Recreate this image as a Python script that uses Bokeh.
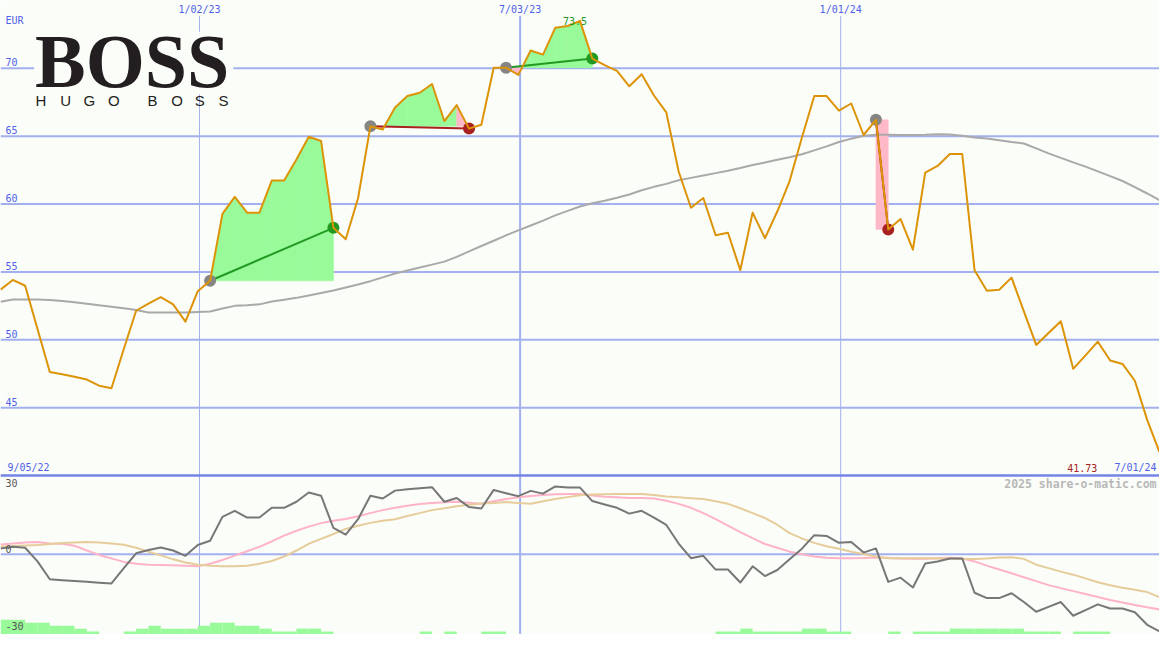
import numpy as np
import pandas as pd
from bokeh.plotting import figure
from bokeh.models import Range1d
from bokeh.core.properties import value
from bokeh.embed import file_html
from bokeh.resources import INLINE

# ---------------- data ----------------
first_date = "2022-09-11"          # weekly observations
n_points = 95

price = [
    53.69, 54.41, 53.98, 50.79, 47.63, 47.46, 47.27, 47.07, 46.62, 46.43,
    49.32, 52.14, 52.66, 53.14, 52.61, 51.34, 53.58, 54.35, 59.28, 60.53,
    59.37, 59.37, 61.73, 61.73, 63.29, 64.96, 64.65, 58.25, 57.41, 60.43,
    65.73, 65.49, 67.12, 67.96, 68.20, 68.85, 66.12, 67.29, 65.56, 65.85,
    70.05, 70.05, 69.52, 71.32, 71.01, 73.00, 73.12, 73.50, 70.72, 70.24,
    69.81, 68.68, 69.57, 68.00, 66.76, 62.40, 59.73, 60.45, 57.70, 57.89,
    55.13, 59.37, 57.48, 59.45, 61.70, 64.90, 67.96, 67.96, 66.88, 67.41,
    65.09, 66.21, 58.13, 58.90, 56.64, 62.32, 62.81, 63.69, 63.69, 55.13,
    53.62, 53.69, 54.58, 52.10, 49.62, 50.50, 51.37, 47.86, 48.85, 49.86,
    48.47, 48.22, 46.98, 44.10, 41.73,
]

ma_long = [
    52.81, 52.97, 52.97, 52.97, 52.93, 52.86, 52.76, 52.66, 52.54, 52.43,
    52.32, 52.20, 52.01, 52.01, 52.01, 52.01, 52.05, 52.09, 52.30, 52.50,
    52.55, 52.61, 52.82, 52.95, 53.09, 53.27, 53.45, 53.63, 53.85, 54.07,
    54.32, 54.60, 54.89, 55.11, 55.32, 55.54, 55.76, 56.11, 56.51, 56.91,
    57.30, 57.70, 58.06, 58.42, 58.78, 59.17, 59.50, 59.82, 60.06, 60.25,
    60.47, 60.71, 61.02, 61.27, 61.49, 61.75, 61.93, 62.11, 62.28, 62.46,
    62.66, 62.88, 63.06, 63.27, 63.45, 63.67, 63.96, 64.25, 64.57, 64.82,
    65.04, 65.11, 65.10, 65.09, 65.09, 65.11, 65.14, 65.12, 65.04, 64.91,
    64.84, 64.71, 64.58, 64.46, 64.10, 63.74, 63.40, 63.07, 62.76, 62.41,
    62.06, 61.70, 61.25, 60.78, 60.29,
]

osc_main = [
    2.5, 3.2, 2.8, -3.1, -10.8, -11.2, -11.5, -11.9, -12.3, -12.6,
    -6.0, 0.4, 1.8, 2.9, 1.6, -0.7, 4.0, 5.8, 16.1, 18.7,
    15.8, 15.8, 20.0, 20.0, 22.6, 26.6, 25.2, 11.3, 8.4, 15.1,
    25.2, 24.0, 27.4, 28.0, 28.4, 28.9, 22.6, 24.2, 20.3, 19.7,
    27.7, 26.3, 25.0, 27.3, 26.1, 29.2, 28.7, 28.7, 22.9, 21.4,
    20.0, 17.5, 18.7, 15.8, 12.6, 4.6, -1.7, -0.7, -6.6, -6.6,
    -12.2, -5.2, -9.4, -6.8, -2.2, 2.4, 8.2, 7.9, 4.9, 5.3,
    0.7, 2.5, -11.9, -10.1, -14.3, -4.0, -3.1, -1.8, -1.8, -16.6,
    -18.9, -18.9, -16.8, -20.6, -24.8, -22.7, -20.6, -26.5, -24.1, -21.6,
    -23.4, -23.4, -25.0, -30.4, -33.2,
]

osc_pink = [
    4.2, 4.6, 5.1, 5.3, 4.6, 4.5, 3.7, 1.6, -0.3, -1.8,
    -3.3, -4.1, -4.5, -4.6, -4.8, -5.0, -5.2, -4.1, -2.5, -0.6,
    1.3, 3.2, 5.5, 8.0, 10.1, 11.9, 13.4, 14.4, 15.2, 16.4,
    17.7, 19.0, 20.0, 20.9, 21.6, 22.1, 22.4, 22.6, 22.2, 21.7,
    22.8, 23.8, 24.5, 25.1, 25.5, 25.8, 25.9, 25.9, 25.3, 24.8,
    24.5, 24.2, 24.2, 24.0, 23.0, 21.7, 20.0, 17.7, 15.1, 12.3,
    9.5, 6.9, 4.4, 2.8, 1.1, 0.0, -1.0, -1.5, -1.7, -1.7,
    -1.6, -1.4, -1.6, -1.8, -1.9, -1.9, -1.7, -1.5, -1.8, -3.1,
    -4.9, -6.6, -8.2, -9.9, -11.6, -13.3, -14.6, -15.9, -17.1, -18.4,
    -19.7, -20.8, -21.9, -22.8, -23.8,
]

osc_tan = [
    3.2, 3.5, 3.8, 4.0, 4.4, 4.8, 5.1, 5.3, 5.0, 4.6,
    4.1, 2.8, 1.1, -0.5, -2.2, -3.6, -4.5, -5.0, -5.2, -5.2,
    -5.0, -4.1, -2.9, -1.0, 1.6, 4.5, 6.6, 8.7, 10.9, 12.3,
    13.5, 14.4, 15.1, 16.5, 17.7, 19.0, 19.8, 20.7, 21.3, 21.9,
    22.1, 22.5, 22.1, 21.7, 22.8, 23.8, 24.6, 25.4, 25.7, 25.8,
    25.9, 25.9, 25.9, 25.5, 24.9, 24.5, 24.1, 23.8, 22.8, 21.7,
    19.8, 17.7, 15.6, 12.7, 9.1, 6.8, 4.9, 3.4, 2.4, 1.1,
    0.1, -1.0, -1.7, -1.7, -1.7, -1.7, -1.8, -1.9, -2.1, -2.1,
    -1.8, -1.4, -1.3, -2.0, -4.5, -6.0, -7.5, -8.8, -10.4, -12.1,
    -13.4, -14.4, -15.3, -16.3, -18.5,
]

vol_level = [
    5, 5, 4, 4, 3, 3, 2, 1, 0, 0,
    1, 2, 3, 2, 2, 2, 3, 4, 4, 3,
    3, 2, 1, 1, 2, 2, 1, 0, 0, 0,
    0, 0, 0, 0, 1, 0, 1, 0, 0, 1,
    1, 0, 0, 0, 0, 0, 0, 0, 0, 0,
    0, 0, 0, 0, 0, 0, 0, 0, 1, 1,
    2, 1, 1, 1, 1, 2, 2, 1, 1, 0,
    0, 0, 1, 0, 1, 1, 1, 2, 2, 2,
    2, 2, 2, 1, 1, 1, 0, 1, 1, 1,
    0, 0, 0, 0, 0,
]

trade_entry = [17, 30, 41, 71]
trade_exit = [27, 38, 48, 72]

vline_dates = ["2023-01-02", "2023-07-03", "2024-01-01"]
price_ticks = [45, 50, 55, 60, 65, 70]
osc_ticks = ["30", "0", "-30"]
currency = "EUR"
first_label = "9/05/22"
last_label = "7/01/24"
watermark = "2025 share-o-matic.com"
brand = "BOSS"
brand_sub = "HUGO BOSS"

# ---------------- colours ----------------
BG = "#fbfdf9"
GRID = "#a3b0f0"
SEP = "#7583e6"
BLUE_TXT = "#4f5fe8"
PRICE_C = "#dc9306"
MA_C = "#a9a9a9"
GREEN_FILL = "#98fa98"
PINK_FILL = "#ffb8c8"
WIN_C = "#229a22"
LOSS_C = "#a82020"
ENTRY_C = "#858585"
OSC_C = "#777777"
OSC_PINK_C = "#ffb3c6"
OSC_TAN_C = "#e6cc9a"
LOGO_C = "#231f20"
MONO = value("DejaVu Sans Mono")

# ---------------- geometry ----------------
dates = pd.date_range(first_date, periods=n_points, freq="7D")
X = dates.values.astype("datetime64[ms]").astype("int64").astype(float)
price_a = np.array(price)


def to_ms(s):
    return float(np.datetime64(pd.Timestamp(s).to_datetime64(), "ms").astype("int64"))


REF_W, REF_H = 1175, 650
W, H = 1159, 634
Y_TOP, Y_PANEL, PANEL_PX = 75.0, 40.0, 487.0
y_per_px = (Y_TOP - Y_PANEL) / PANEL_PX
Y_BOT = Y_TOP - REF_H * y_per_px
OSC_ZERO_PX, OSC_PX_UNIT = 567.7, 2.38
OSC_TOP = OSC_ZERO_PX / OSC_PX_UNIT
OSC_BOT = -(REF_H - OSC_ZERO_PX) / OSC_PX_UNIT
VOL_PX = 3.0

x0, x1 = X[0], X[-1]


def sx(px):
    return x0 + (x1 - x0) * px / REF_W


def sy(py):
    return Y_TOP - py * y_per_px


def so(py):
    return OSC_TOP - py / OSC_PX_UNIT


p = figure(width=W, height=H, x_range=Range1d(x0, x1), y_range=Range1d(Y_BOT, Y_TOP),
           output_backend="svg", toolbar_location=None,
           x_axis_location=None, y_axis_location=None, min_border=0,
           background_fill_color=BG, border_fill_color=BG, outline_line_color=None)
p.extra_y_ranges = {"osc": Range1d(OSC_BOT, OSC_TOP), "vol": Range1d(0, REF_H / VOL_PX)}
p.xgrid.visible = False
p.ygrid.visible = False

# vertical date lines
vx = [to_ms(d) for d in vline_dates]
p.segment(x0=vx, y0=[sy(16)] * len(vx), x1=vx, y1=[Y_BOT] * len(vx),
          line_color=GRID, line_width=[1, 2, 1])
# horizontal price grid
p.segment(x0=[x0] * len(price_ticks), y0=price_ticks, x1=[x1] * len(price_ticks), y1=price_ticks,
          line_color=GRID, line_width=2)
# oscillator zero line
p.segment(x0=[x0], y0=[0], x1=[x1], y1=[0], y_range_name="osc", line_color=GRID, line_width=2)
# panel separator
p.segment(x0=[x0], y0=[Y_PANEL], x1=[x1], y1=[Y_PANEL], line_color=SEP, line_width=2.5)

# volume-like bars at the bottom
vl = np.array(vol_level[:-1], dtype=float)
mask = vl > 0
p.quad(left=X[:-1][mask], right=X[1:][mask], bottom=0, top=vl[mask], y_range_name="vol",
       fill_color=GREEN_FILL, line_color=None)

# oscillator lines
p.line(X, osc_pink, y_range_name="osc", line_color=OSC_PINK_C, line_width=2)
p.line(X, osc_tan, y_range_name="osc", line_color=OSC_TAN_C, line_width=2)
p.line(X, osc_main, y_range_name="osc", line_color=OSC_C, line_width=2, line_join="round")

# logo background box (hides grid lines behind the logo)
p.quad(left=[sx(34)], right=[sx(236)], top=[sy(32)], bottom=[sy(96)], fill_color=BG, line_color=None)

# trade fills
g_xs, g_ys, r_xs, r_ys = [], [], [], []
for a, b in zip(trade_entry, trade_exit):
    L = price_a[a]
    loss = price_a[b] < L
    if b - a == 1:
        poly = ([X[a], X[a], X[b], X[b]], [L, price_a[b], price_a[b], L])
        (r_xs if loss else g_xs).append(poly[0])
        (r_ys if loss else g_ys).append(poly[1])
        continue
    for k in range(a, b):
        xa, xb = X[k], X[k + 1]
        da, db = price_a[k] - L, price_a[k + 1] - L
        force_pink = loss and k == b - 1
        if da * db < 0:
            t = da / (da - db)
            xc = xa + t * (xb - xa)
            pieces = [([xa, xa, xc], [L, price_a[k], L], da > 0),
                      ([xc, xb, xb], [L, price_a[k + 1], L], db > 0)]
        else:
            pieces = [([xa, xa, xb, xb], [L, price_a[k], price_a[k + 1], L], (da + db) >= 0)]
        for pxs, pys, above in pieces:
            if above and not force_pink:
                g_xs.append(pxs); g_ys.append(pys)
            else:
                r_xs.append(pxs); r_ys.append(pys)
p.patches(g_xs, g_ys, fill_color=GREEN_FILL, line_color=GREEN_FILL, line_width=0.5)
p.patches(r_xs, r_ys, fill_color=PINK_FILL, line_color=PINK_FILL, line_width=0.5)

# long moving average
p.line(X, ma_long, line_color=MA_C, line_width=2)

# trade lines and markers
ea = np.array(trade_entry); eb = np.array(trade_exit)
win = price_a[eb] >= price_a[ea]
tcol = [WIN_C if w else LOSS_C for w in win]
p.segment(x0=X[ea], y0=price_a[ea], x1=X[eb], y1=price_a[eb], line_color=tcol, line_width=2)
p.scatter(X[ea], price_a[ea], size=12, fill_color=ENTRY_C, line_color=None)
p.scatter(X[eb], price_a[eb], size=12, fill_color=tcol, line_color=None)

# price line
p.line(X, price, line_color=PRICE_C, line_width=2, line_join="round")

# ---------------- texts ----------------
imax = int(np.argmax(price_a))
p.text(x=[X[imax]], y=[price_a[imax]], text=[f"{price_a[imax]:.1f}"], x_offset=-5,
       text_font=MONO, text_font_size="10px", text_color=WIN_C,
       text_align="center", text_baseline="middle")

p.text(x=vx, y=[sy(9)] * len(vx),
       text=[f"{pd.Timestamp(d).month}/{pd.Timestamp(d).day:02d}/{pd.Timestamp(d).year % 100:02d}" for d in vline_dates],
       text_font=MONO, text_font_size="10px", text_color=BLUE_TXT,
       text_align="center", text_baseline="middle")

p.text(x=[sx(5)] * len(price_ticks), y=price_ticks, text=[str(t) for t in price_ticks], y_offset=-2,
       text_font=MONO, text_font_size="10px", text_color=BLUE_TXT,
       text_align="left", text_baseline="bottom")
p.text(x=[sx(5)], y=[sy(21)], text=[currency], text_font=MONO, text_font_size="10px",
       text_color=BLUE_TXT, text_align="left", text_baseline="middle")

p.text(x=[sx(7), sx(1172)], y=[sy(479)] * 2, text=[first_label, last_label],
       text_font=MONO, text_font_size="10px", text_color=BLUE_TXT,
       text_align=["left", "right"], text_baseline="middle")
p.text(x=[sx(1112)], y=[sy(479)], text=[f"{price_a[-1]:.2f}"],
       text_font=MONO, text_font_size="10px", text_color=LOSS_C,
       text_align="right", text_baseline="middle")

p.text(x=[sx(1172)], y=[so(496)], text=[watermark], y_range_name="osc",
       text_font=MONO, text_font_size="11.5px", text_font_style="bold", text_color="#b8b8b8",
       text_align="right", text_baseline="middle")

p.text(x=[sx(5)] * 3, y=[so(495), so(562), so(641)], text=osc_ticks, y_range_name="osc",
       text_font=MONO, text_font_size="10px", text_color="#555555",
       text_align="left", text_baseline="middle")

# logo
p.text(x=[sx(35)], y=[sy(62)], text=[brand], text_font=value("Liberation Serif"),
       text_font_style="bold", text_font_size="76px", text_color=LOGO_C,
       text_align="left", text_baseline="middle")
letters = [c for c in brand_sub if c != " "]
letter_px = [41, 66, 90, 115, 154, 179, 202, 226]
p.text(x=[sx(v) for v in letter_px], y=[sy(102.5)] * len(letters), text=letters,
       text_font=value("Liberation Sans"), text_font_size="15px", text_color=LOGO_C,
       text_align="center", text_baseline="middle")

open("out.html", "w").write(file_html(p, INLINE))
